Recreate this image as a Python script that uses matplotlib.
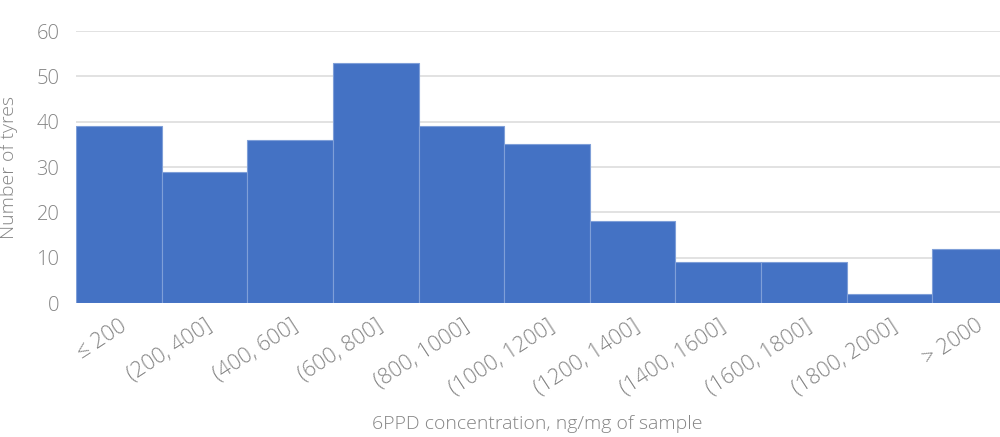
import matplotlib.pyplot as plt
import numpy as np

bins = ["≤ 200", "(200, 400]", "(400, 600]", "(600, 800]", "(800, 1000]",
        "(1000, 1200]", "(1200, 1400]", "(1400, 1600]", "(1600, 1800]",
        "(1800, 2000]", "> 2000"]
tyres = [39, 29, 36, 53, 39, 35, 18, 9, 9, 2, 12]

plt.rcParams["font.family"] = ["Open Sans", "DejaVu Sans"]
grey = "#858585"

fig = plt.figure(figsize=(10, 4.37), dpi=100)
ax = fig.add_axes([0.076, 0.3066, 0.942, 0.6224])

x = np.arange(len(bins))
ax.bar(x, tyres, width=1.0, color="#4472C4", edgecolor="#7f9fd8", linewidth=0.8, zorder=3)

ax.set_xlim(-0.5, len(bins) - 0.5)
ax.set_ylim(0, 60)
ax.set_yticks(range(0, 61, 10))
ax.grid(axis="y", color="#dddddd", linewidth=1.2, zorder=0)
ax.set_axisbelow(True)
for s in ax.spines.values():
    s.set_visible(False)
ax.tick_params(length=0, colors=grey, labelsize=14.5)
ax.tick_params(axis="y", pad=12)
ax.tick_params(axis="x", pad=9, labelsize=15.5)

ax.set_xticks(x)
ax.set_xticklabels(bins, rotation=33, ha="right", rotation_mode="anchor",
                   fontweight="light")
for lab in ax.get_yticklabels():
    lab.set_fontweight("light")

ax.set_ylabel("Number of tyres", color=grey, fontsize=14, fontweight="light")
ax.yaxis.set_label_coords(-0.062, 0.5)
ax.set_xlabel("6PPD concentration, ng/mg of sample", color=grey, fontsize=14,
              fontweight="light", va="center")
ax.xaxis.set_label_coords(0.49, -0.445)

fig.savefig("out.png", dpi=100)
